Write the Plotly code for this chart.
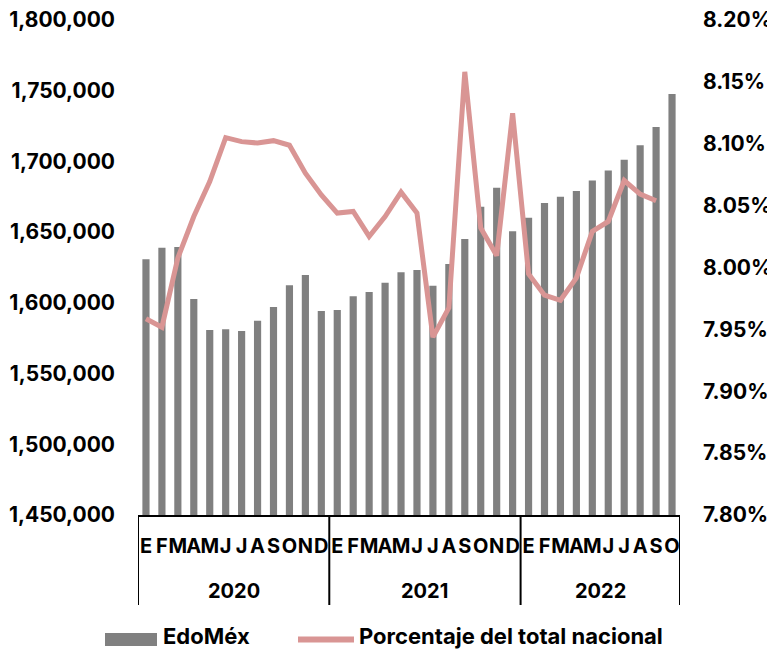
import plotly.graph_objects as go

years = ["2020", "2021", "2022"]
months_per_year = [12, 12, 10]
month_letters = ["E", "F", "M", "A", "M", "J", "J", "A", "S", "O", "N", "D"]
months = [m for n in months_per_year for m in month_letters[:n]]

edomex = [
    1630800, 1639000, 1639500, 1602700, 1580800, 1581300, 1580100, 1587400, 1597100, 1612400, 1619700, 1594200,
    1594900, 1604600, 1607700, 1614300, 1621600, 1623200, 1612100, 1627500, 1645200, 1668000, 1681400, 1650600,
    1660200, 1670600, 1675100, 1679100, 1686600, 1693500, 1701200, 1711400, 1724300, 1747700,
]
porcentaje = [
    7.9586, 7.9518, 8.0077, 8.0412, 8.0695, 8.1049, 8.1017, 8.1006, 8.1025, 8.0988, 8.0762, 8.0587,
    8.0440, 8.0453, 8.0251, 8.0412, 8.0609, 8.0440, 7.9437, 7.9674, 8.1581, 8.0319, 8.0096, 8.1246,
    7.9948, 7.9776, 7.9735, 7.9916, 8.0292, 8.0372, 8.0703, 8.0593, 8.0539, None,
]

names = ["EdoMéx", "Porcentaje del total nacional"]
BAR_COLOR = "#808080"
LINE_COLOR = "#D99594"
FONT = "Inter"

idx = list(range(len(months)))

fig = go.Figure()
fig.add_trace(go.Bar(
    x=idx, y=edomex, name=names[0],
    marker=dict(color=BAR_COLOR, line=dict(width=0)),
    yaxis="y", showlegend=False,
))
fig.add_trace(go.Scatter(
    x=idx, y=porcentaje, name=names[1],
    mode="lines", line=dict(color=LINE_COLOR, width=5),
    yaxis="y2", connectgaps=False, showlegend=False,
))

# The page body adds an 8px margin, so the figure is sized and placed to compensate.
OFF = 8
W, H = 775 - OFF, 651 - OFF
plot_left, plot_right, plot_top, plot_bottom = 138, 680, 20, 515   # target screen pixels
L = plot_left - OFF
R = W - (plot_right - OFF)
T = plot_top - OFF
B = H - (plot_bottom - OFF)
pw, ph = W - L - R, H - T - B

def py_(sy):   # screen y -> paper y
    return (plot_bottom - sy) / ph

def px_(sx):   # screen x -> paper x
    return (sx - plot_left) / pw

shapes = []
annotations = []
start = 0
for yr, n in zip(years, months_per_year):
    shapes.append(dict(type="line", xref="x", yref="paper", x0=start - 0.5, x1=start - 0.5,
                       y0=0, y1=py_(605), line=dict(color="black", width=2)))
    annotations.append(dict(text=yr, xref="x", yref="paper", x=start + (n - 1) / 2, y=py_(591),
                            showarrow=False, xanchor="center", yanchor="middle",
                            font=dict(family=FONT, size=20, color="black", weight=700)))
    start += n
shapes.append(dict(type="line", xref="x", yref="paper", x0=start - 0.5, x1=start - 0.5,
                   y0=0, y1=py_(605), line=dict(color="black", width=2)))

# legend (drawn below the chart)
shapes.append(dict(type="rect", xref="paper", yref="paper",
                   x0=px_(105), x1=px_(157), y0=py_(646), y1=py_(633),
                   fillcolor=BAR_COLOR, line=dict(width=0)))
shapes.append(dict(type="line", xref="paper", yref="paper",
                   x0=px_(298), x1=px_(354), y0=py_(639.5), y1=py_(639.5),
                   line=dict(color=LINE_COLOR, width=6)))
annotations.append(dict(text=names[0], xref="paper", yref="paper", x=px_(161), y=py_(636),
                        showarrow=False, xanchor="left", yanchor="middle",
                        font=dict(family=FONT, size=22, color="black", weight=700)))
annotations.append(dict(text=names[1], xref="paper", yref="paper", x=px_(357), y=py_(636),
                        showarrow=False, xanchor="left", yanchor="middle",
                        font=dict(family=FONT, size=22, color="black", weight=700)))

fig.update_layout(
    width=W, height=H,
    margin=dict(l=L, r=R, t=T, b=B, autoexpand=False),
    paper_bgcolor="white", plot_bgcolor="white",
    bargap=0.55,
    font=dict(family=FONT, size=20, color="black"),
    showlegend=False,
    shapes=shapes,
    annotations=annotations,
    xaxis=dict(
        range=[-0.5, len(months) - 0.5],
        tickmode="array", tickvals=idx, ticktext=months,
        showline=True, linecolor="black", linewidth=2,
        tickangle=0, ticks="", ticklabelstandoff=12,
        tickfont=dict(family=FONT, size=20, color="black", weight=700),
        showgrid=False, zeroline=False, automargin=False,
    ),
    yaxis=dict(
        range=[1450000, 1800000], dtick=50000, tickformat=",",
        showgrid=False, zeroline=False, showline=False, ticks="",
        ticklabelstandoff=22, automargin=False, ticklabeloverflow="allow",
        tickfont=dict(family=FONT, size=21, color="black", weight=700),
    ),
    yaxis2=dict(
        range=[7.80, 8.20], dtick=0.05, tickformat=".2f", ticksuffix="%",
        overlaying="y", side="right",
        showgrid=False, zeroline=False, showline=False, ticks="",
        ticklabelstandoff=22, automargin=False, ticklabeloverflow="allow",
        tickfont=dict(family=FONT, size=21, color="black", weight=700),
    ),
)

fig.write_html("out.html")
